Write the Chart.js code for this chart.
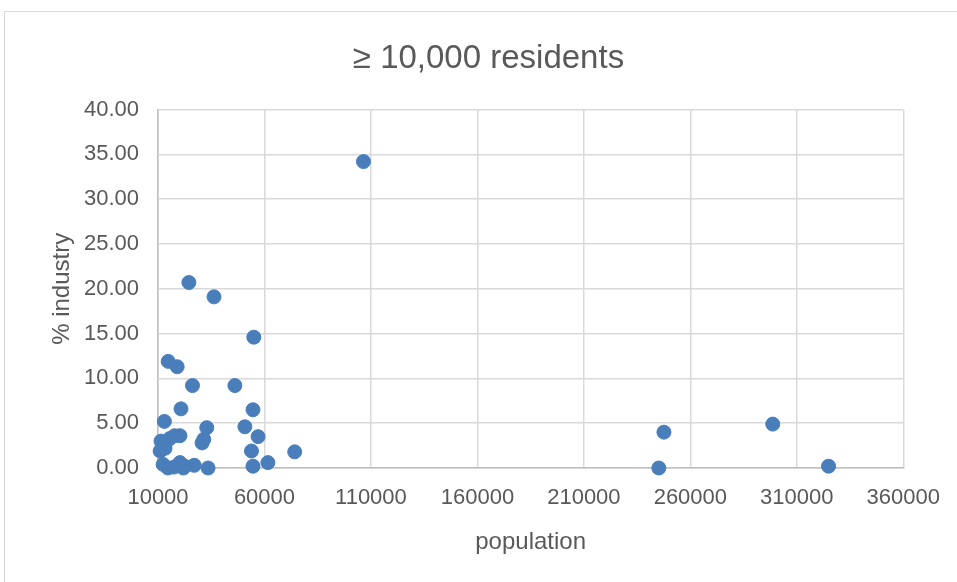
<!DOCTYPE html>
<html>
<head>
<meta charset="utf-8">
<script src="https://cdn.jsdelivr.net/npm/chart.js@4"></script>
<style>
  html, body { margin: 0; padding: 0; background: #fff; overflow: hidden; }
  #wrap { position: relative; width: 957px; height: 582px; }
  #frame { position: absolute; left: 4px; top: 11px; width: 1000px; height: 1000px; border: 1px solid #d9d9d9; }
  canvas { position: absolute; left: 0; top: 0; }
</style>
</head>
<body>
<div id="wrap">
  <div id="frame"></div>
  <canvas id="chart" width="957" height="582"></canvas>
</div>
<script>
// population (x) and % industry (y)
const population = [
  106500, 24500, 36300, 55000, 14800, 19000, 26200, 46100, 20800, 54600,
  13000, 50800, 32900, 57000, 20300, 31500, 30700, 53900, 74200, 54600,
  61600, 33500, 27000, 20300, 21900, 17500, 11400, 11000, 13300, 15600,
  17800, 12400, 14700, 22600, 13500, 247600, 245200, 298700, 324900
];
const industry = [
  34.2, 20.7, 19.1, 14.6, 11.9, 11.3, 9.2, 9.2, 6.6, 6.5,
  5.2, 4.6, 4.5, 3.5, 3.6, 3.2, 2.8, 1.9, 1.8, 0.2,
  0.6, 0.0, 0.3, 0.6, 0.0, 0.1, 3.0, 1.9, 2.2, 3.3,
  3.6, 0.4, 0.0, 0.2, 2.8, 4.0, 0.0, 4.9, 0.2
];

const TEXT = '#595959', GRID = '#d9d9d9', AXIS = '#bfbfbf', DOT = '#4a7ebb';
const FONT = "'Liberation Sans', Arial, sans-serif";

const points = population.map((p, i) => ({ x: p, y: industry[i] }));

// the title sits centred on the whole frame, not on the padded layout box
const centreTitle = {
  id: 'centreTitle',
  afterLayout(chart) {
    if (chart.titleBlock) { chart.titleBlock.left = 0; chart.titleBlock.right = 977; }
  }
};

new Chart(document.getElementById('chart'), {
  type: 'scatter',
  data: { datasets: [{
    data: points,
    backgroundColor: DOT,
    borderColor: DOT,
    pointRadius: 7,
    pointHoverRadius: 7,
    clip: false
  }] },
  plugins: [centreTitle],
  options: {
    responsive: false,
    animation: false,
    layout: { padding: { left: 0, right: 50, top: 0, bottom: 0 } },
    plugins: {
      legend: { display: false },
      tooltip: { enabled: false },
      title: {
        display: true,
        text: '≥ 10,000 residents',
        color: TEXT,
        font: { family: FONT, size: 33, weight: 'normal' },
        padding: { top: 39, bottom: 31 }
      }
    },
    scales: {
      x: {
        type: 'linear',
        min: 10000, max: 360000,
        afterFit: s => { s.height = 114; },
        ticks: { stepSize: 50000, color: TEXT, padding: 17, font: { family: FONT, size: 22 }, callback: v => String(v) },
        grid: { color: GRID, lineWidth: 1.5, drawTicks: false },
        border: { color: AXIS, width: 1.5 },
        title: { display: true, text: 'population', color: TEXT, font: { family: FONT, size: 24 }, padding: { top: 0, bottom: 25 } }
      },
      y: {
        min: 0, max: 40,
        afterFit: s => { s.width = 158; },
        ticks: { stepSize: 5, color: TEXT, padding: 19, font: { family: FONT, size: 22 }, callback: v => v.toFixed(2) },
        grid: { color: GRID, lineWidth: 1.5, drawTicks: false },
        border: { color: AXIS, width: 1.5 },
        title: { display: true, text: '% industry', color: TEXT, font: { family: FONT, size: 24 }, padding: { top: 48, bottom: 0 } }
      }
    }
  }
});
</script>
</body>
</html>
